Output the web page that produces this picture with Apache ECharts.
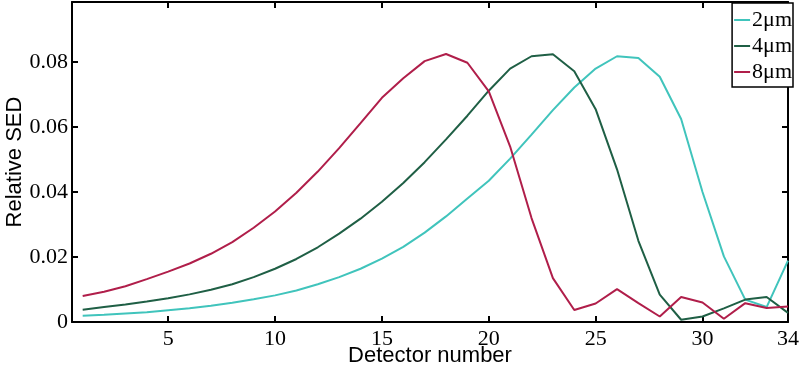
<!DOCTYPE html>
<html>
<head>
<meta charset="utf-8">
<script src="https://cdn.jsdelivr.net/npm/echarts@6/dist/echarts.min.js"></script>
<style>
html,body{margin:0;padding:0;background:#fff;}
#chart{width:800px;height:370px;}
</style>
</head>
<body>
<div id="chart"></div>
<script>
const detectors = [1,2,3,4,5,6,7,8,9,10,11,12,13,14,15,16,17,18,19,20,21,22,23,24,25,26,27,28,29,30,31,32,33,34];
const sed2um = [0.0019,0.0022,0.0026,0.0030,0.0036,0.0042,0.0050,0.0059,0.0070,0.0082,0.0097,0.0116,0.0138,0.0164,0.0195,0.0231,0.0275,0.0325,0.0380,0.0435,0.0503,0.0577,0.0652,0.0722,0.0780,0.0818,0.0813,0.0755,0.0625,0.0400,0.0202,0.0069,0.0046,0.0189];
const sed4um = [0.0038,0.0046,0.0054,0.0063,0.0073,0.0085,0.0099,0.0116,0.0138,0.0164,0.0194,0.0230,0.0272,0.0318,0.0370,0.0428,0.0492,0.0562,0.0635,0.0712,0.0780,0.0818,0.0824,0.0772,0.0655,0.0470,0.0250,0.0084,0.0007,0.0017,0.0042,0.0069,0.0077,0.0028];
const sed8um = [0.0080,0.0093,0.0110,0.0132,0.0155,0.0180,0.0210,0.0246,0.0290,0.0340,0.0398,0.0463,0.0535,0.0612,0.0690,0.0750,0.0803,0.0825,0.0798,0.0710,0.0540,0.0320,0.0135,0.0037,0.0057,0.0101,0.0058,0.0017,0.0077,0.0060,0.0010,0.0058,0.0043,0.0048];
const xTickValues = [5,10,15,20,25,30,34];
const yTickValues = [0,0.02,0.04,0.06,0.08];
const seriesNames = ['2\u03bcm','4\u03bcm','8\u03bcm'];
const seriesColors = ['#40c4bc','#1f5f45','#b01e4a'];

const chart = echarts.init(document.getElementById('chart'), null, {renderer:'canvas'});
const axisLine = {show:true, onZero:false, lineStyle:{color:'#000', width:2}};
const tickStyle = {color:'#000', width:2};
const labelFont = {color:'#000', fontFamily:'Liberation Serif', fontSize:22};
const nameFont = {color:'#000', fontFamily:'Liberation Sans', fontSize:22};

const seriesData = [sed2um, sed4um, sed8um];
chart.setOption({
  animation:false,
  backgroundColor:'#fff',
  grid:{left:72, right:12, top:2, bottom:48, containLabel:false, outerBoundsMode:'none'},
  legend:{
    data:seriesNames,
    orient:'vertical', right:7, top:3,
    backgroundColor:'#fff', borderColor:'#000', borderWidth:1.5, borderRadius:0,
    padding:[6,1,4,2], itemGap:4,
    icon:'rect', itemWidth:16, itemHeight:2,
    textStyle:{color:'#000', fontFamily:'Liberation Serif', fontSize:22, padding:[0,0,0,-3]}
  },
  xAxis:[
    {type:'value', min:0.5, max:34, position:'bottom', axisLine:axisLine,
     axisTick:{show:true, inside:true, length:6, customValues:xTickValues, lineStyle:tickStyle},
     axisLabel:Object.assign({customValues:xTickValues, margin:6}, labelFont),
     splitLine:{show:false},
     name:'Detector number', nameLocation:'middle', nameGap:23, nameMoveOverlap:false, nameTextStyle:nameFont},
    {type:'value', min:0.5, max:34, position:'top', axisLine:axisLine,
     axisTick:{show:true, inside:true, length:6, customValues:xTickValues, lineStyle:tickStyle},
     axisLabel:{show:false}, splitLine:{show:false}}
  ],
  yAxis:[
    {type:'value', min:0, max:0.0985, position:'left', axisLine:axisLine,
     axisTick:{show:true, inside:true, length:6, customValues:yTickValues, lineStyle:tickStyle},
     axisLabel:Object.assign({customValues:yTickValues, margin:4, formatter:function(v){return v===0?'0':v.toFixed(2);}}, labelFont),
     splitLine:{show:false},
     name:'Relative SED', nameLocation:'middle', nameGap:46, nameMoveOverlap:false, nameTextStyle:nameFont},
    {type:'value', min:0, max:0.0985, position:'right', axisLine:axisLine,
     axisTick:{show:true, inside:true, length:6, customValues:yTickValues, lineStyle:tickStyle},
     axisLabel:{show:false}, splitLine:{show:false}}
  ],
  series: seriesNames.map(function(n,k){
    return {
      name:n, type:'line', xAxisIndex:0, yAxisIndex:0,
      symbol:'none', smooth:false,
      lineStyle:{color:seriesColors[k], width:2},
      itemStyle:{color:seriesColors[k]},
      data: detectors.map(function(d,i){return [d, seriesData[k][i]];})
    };
  })
});
</script>
</body>
</html>
